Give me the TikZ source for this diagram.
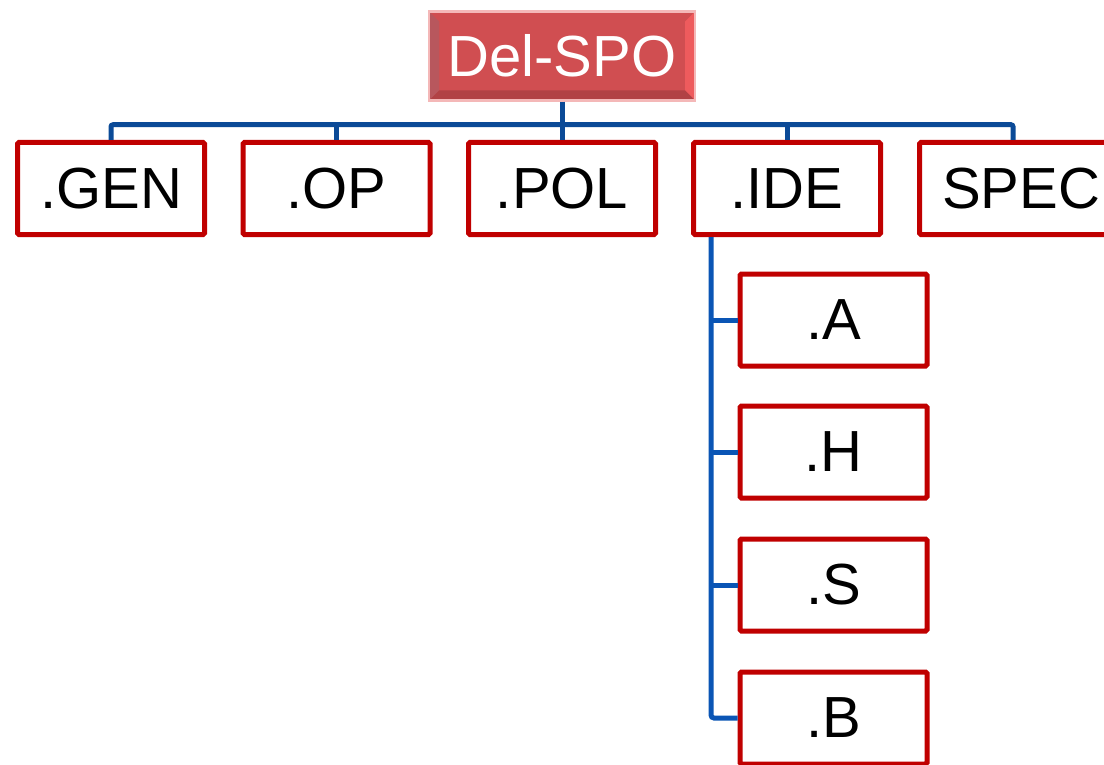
\documentclass[tikz,border=0pt]{standalone}
\usepackage{fontspec}
\setmainfont{Liberation Sans}
\definecolor{boxred}{HTML}{C00000}
\definecolor{busblue}{HTML}{0B4A97}
\definecolor{trunkblue}{HTML}{0A55B5}
\definecolor{delrim}{HTML}{F4B8B8}
\definecolor{delleft}{HTML}{B8575D}
\definecolor{delmid}{HTML}{D04E51}
\definecolor{delright}{HTML}{EE5B5D}
\tikzset{
  unit/.style={draw=boxred,line width=5pt,rounded corners=1.5pt,fill=white,
    minimum width=187pt,minimum height=92pt,inner sep=0pt,
    font=\fontsize{58}{60}\selectfont},
  top/.style={draw=delrim,line width=2.5pt,fill=delmid,
    minimum width=266pt,minimum height=89pt,inner sep=0pt,text=white,
    font=\fontsize{58}{60}\selectfont,
    path picture={
      \fill[delleft] (path picture bounding box.north west) -- ++(10pt,-10pt)
        |- ([shift={(10pt,10pt)}]path picture bounding box.south west)
        -- (path picture bounding box.south west) -- cycle ;
      \fill[delright] (path picture bounding box.north east) -- ++(-10pt,-10pt)
        |- ([shift={(-10pt,10pt)}]path picture bounding box.south east)
        -- (path picture bounding box.south east) -- cycle ;
      \fill[delmid!85!black] (path picture bounding box.south west) -- ++(10pt,10pt)
        -- ([shift={(-10pt,10pt)}]path picture bounding box.south east)
        -- (path picture bounding box.south east) -- cycle ;
    }},
  bus/.style={draw=busblue,line width=5pt,rounded corners=2pt},
  trunk/.style={draw=trunkblue,line width=5pt,rounded corners=3pt}
}
\begin{document}
\begin{tikzpicture}[x=1pt,y=-1pt]
        \useasboundingbox (0,0) rectangle (1104,765) ;
        \clip (0,0) rectangle (1104,765) ;
        \fill[white] (0,0) rectangle (1104,765) ;
        % head and its bus
        \node[top] (del) at (562,56) {Del-SPO} ;
        \draw[bus] (del.south) -- ++(0,23) coordinate (busmid) ;
        \node[unit] (gen) at (111,188.5) {.GEN} ;
        \node[unit] (op) at (336.5,188.5) {.OP} ;
        \node[unit] (pol) at (562,188.5) {.POL} ;
        \node[unit] (ide) at (787,188.5) {.IDE} ;
        \node[unit,minimum width=203pt] (spec) at (1021,188.5) {SPEC} ;
        \draw[bus] (gen.north) |- (busmid) -| ([xshift=-8pt]spec.north) ;
        \foreach \n in {op,pol,ide}
          \draw[bus] (\n.north) -- (\n.north |- busmid) ;
        % children of .IDE
        \node[unit] (a) at (833.5,320) {.A} ;
        \node[unit] (h) at (833.5,452) {.H} ;
        \node[unit] (s) at (833.5,585) {.S} ;
        \node[unit] (b) at (833.5,718) {.B} ;
        \coordinate (trunktop) at ([xshift=20pt]ide.south west) ;
        \draw[trunk] (trunktop) |- (b.west) ;
        \foreach \n in {a,h,s}
          \draw[trunk] (\n.west) -- (trunktop |- \n.west) ;
\end{tikzpicture}
\end{document}
